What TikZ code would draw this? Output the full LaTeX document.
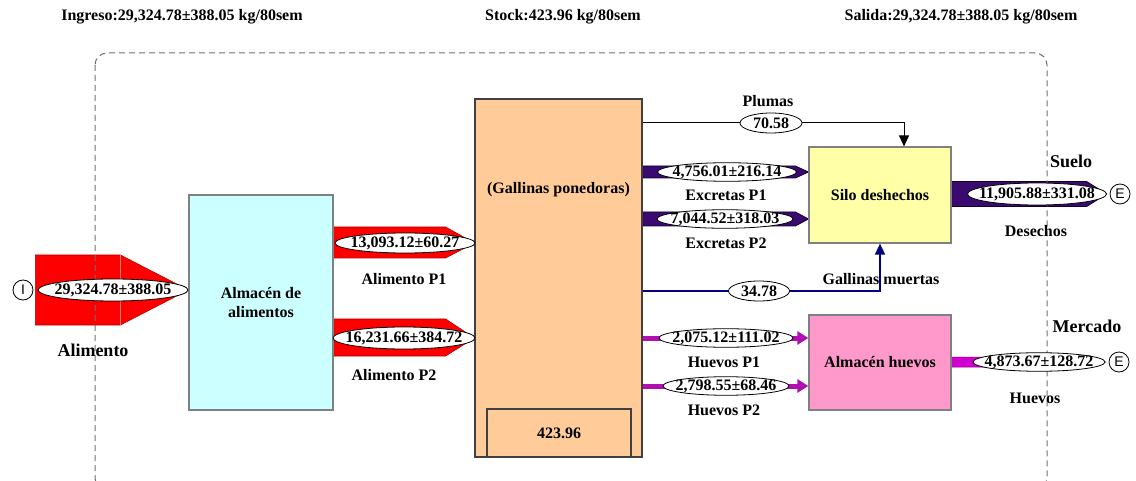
\documentclass[tikz,border=0pt]{standalone}
\usepackage{fontspec}
\setmainfont{Liberation Serif}
\newfontfamily\arialf{Liberation Sans}
\usetikzlibrary{shapes.geometric,arrows.meta,calc}
\pgfdeclarelayer{bg}
\pgfsetlayers{bg,main}
\definecolor{cyanf}{HTML}{CCFFFF}
\definecolor{peach}{HTML}{FFCC99}
\definecolor{yellowf}{HTML}{FFFFA8}
\definecolor{pinkf}{HTML}{FF99CC}
\definecolor{boxgray}{HTML}{808080}
\definecolor{darkbox}{HTML}{404040}
\definecolor{arrred}{HTML}{FF0000}
\definecolor{arrdark}{HTML}{B00000}
\definecolor{excf}{HTML}{3A0A70}
\definecolor{excd}{HTML}{14002E}
\definecolor{hueline}{HTML}{B010B0}
\definecolor{hueout}{HTML}{D000D0}
\definecolor{navyline}{HTML}{000080}
\definecolor{dashgray}{HTML}{707070}
\newcommand\et[1]{\makebox[0pt]{#1}}
\tikzset{
  txt/.style={font=\fontsize{16}{19}\selectfont\bfseries, inner sep=0pt, align=center},
  bigtxt/.style={font=\fontsize{18}{21}\selectfont\bfseries, inner sep=0pt},
  box/.style={draw=boxgray, line width=1.2pt, inner sep=0pt, align=center, font=\fontsize{16}{19}\selectfont\bfseries},
  ell/.style={ellipse, draw=black, line width=0.8pt, fill=white, inner sep=0pt, font=\fontsize{16}{19}\selectfont\bfseries},
  term/.style={circle, draw=black, line width=0.8pt, fill=white, minimum size=20pt, inner sep=0pt, font=\arialf\fontsize{14}{16}\selectfont},
  redar/.style={fill=arrred, draw=arrdark, line width=0.6pt},
  excar/.style={fill=excf, draw=excd, line width=0.8pt},
  hueoutar/.style={fill=hueout, draw=hueout!70!black, line width=0.5pt},
  hueflow/.style={draw=hueline, line width=5pt, -{Triangle[length=11pt,width=13pt]}},
  thinflow/.style={line width=1pt, -{Triangle[length=11pt,width=10pt]}},
}
\begin{document}
\begin{tikzpicture}[x=1pt,y=-1pt]
\useasboundingbox (0,0) rectangle (1136,481);
\clip (0,0) rectangle (1136,481);

% system boundary
\draw[dashgray, line width=1pt, dash pattern=on 6pt off 4pt, rounded corners=12pt] (95,53) rectangle (1047,490);

% headers
\node[txt] (hin) at (182,17) {Ingreso:29,324.78±388.05 kg/80sem};
\node[txt] (hst) at (563,17) {Stock:423.96 kg/80sem};
\node[txt] (hout) at (961,17) {Salida:29,324.78±388.05 kg/80sem};

% boxes
\node[box, fill=cyanf, minimum width=144pt, minimum height=215pt] (alm) at (261,302.5) {Almacén de\\alimentos};
\node[box, draw=darkbox, fill=peach, minimum width=167pt, minimum height=358pt] (gall) at (558.5,278) {};
\node[txt] (gtxt) at (558.5,190) {(Gallinas ponedoras)};
\node[box, draw=darkbox, fill=peach, minimum width=144pt, minimum height=48pt] (stock) at (559,433) {423.96};
\node[box, fill=yellowf, minimum width=142pt, minimum height=96pt] (silo) at (880,195) {Silo deshechos};
\node[box, fill=pinkf, minimum width=142pt, minimum height=95pt] (hue) at (880,362.5) {Almacén huevos};

% terminals
\node[term] (I) at (23,290) {I};
\node[term] (E1) at (1120,194) {E};
\node[term] (E2) at (1119,362) {E};

% flow value ellipses
\node[ell, minimum width=150pt, minimum height=22pt] (a0) at (113,290) {\et{29,324.78±388.05}};
\node[ell, minimum width=140pt, minimum height=20pt] (a1) at (405,243) {\et{13,093.12±60.27}};
\node[ell, minimum width=142pt, minimum height=22pt] (a2) at (404,338) {\et{16,231.66±384.72}};
\node[ell, minimum width=62pt, minimum height=20pt] (pl) at (771,123) {\et{70.58}};
\node[ell, minimum width=139pt, minimum height=18pt] (e1) at (727,172) {\et{4,756.01±216.14}};
\node[ell, minimum width=136pt, minimum height=18pt] (e2) at (725,219) {\et{7,044.52±318.03}};
\node[ell, minimum width=61pt, minimum height=20pt] (gm) at (759,291) {\et{34.78}};
\node[ell, minimum width=134pt, minimum height=18pt] (h1) at (726,338) {\et{2,075.12±111.02}};
\node[ell, minimum width=126pt, minimum height=18pt] (h2) at (726,386) {\et{2,798.55±68.46}};
\node[ell, minimum width=139pt, minimum height=22pt] (des) at (1037,194) {\et{11,905.88±331.08}};
\node[ell, minimum width=132pt, minimum height=18pt] (ho) at (1039,362) {\et{4,873.67±128.72}};

% labels
\node[bigtxt] (lal) at (93,350) {Alimento};
\node[txt] (lap1) at (404,279) {Alimento P1};
\node[txt] (lap2) at (394,375) {Alimento P2};
\node[txt] (lpl) at (768,101) {Plumas};
\node[txt] (lex1) at (726,195) {Excretas P1};
\node[txt] (lex2) at (726,243) {Excretas P2};
\node[txt] (lgm) at (881,279) {Gallinas muertas};
\node[txt] (lh1) at (724,362) {Huevos P1};
\node[txt] (lh2) at (724,410) {Huevos P2};
\node[bigtxt] (lsu) at (1071,161) {Suelo};
\node[txt] (lde) at (1036,231) {Desechos};
\node[bigtxt] (lme) at (1087,326) {Mercado};
\node[txt] (lhu) at (1035,398) {Huevos};

\coordinate (pc) at (904,123);

\begin{pgfonlayer}{bg}
% Alimento input
\coordinate (r0) at ($(I.east)+(2,0)$);
\filldraw[redar] ($(r0)+(0,-35)$) -- ($(r0)+(85,-35)$) -- (alm.west|-a0) -- ($(r0)+(85,35)$) -- ($(r0)+(0,35)$) -- cycle;
\draw[red!55!white, line width=0.8pt] ($(r0)+(85,-35)$) -- ($(r0)+(85,35)$);
% Alimento P1 / P2
\filldraw[redar] ($(alm.east|-a1)+(0,-16)$) -- ($(alm.east|-a1)+(112,-16)$) -- (gall.west|-a1) -- ($(alm.east|-a1)+(112,15)$) -- ($(alm.east|-a1)+(0,15)$) -- cycle;
\filldraw[redar] ($(alm.east|-a2)+(0,-19)$) -- ($(alm.east|-a2)+(112,-19)$) -- (gall.west|-a2) -- ($(alm.east|-a2)+(112,18)$) -- ($(alm.east|-a2)+(0,18)$) -- cycle;
% Excretas
\filldraw[excar] ($(gall.east|-e1)+(0,-6)$) -- ($(silo.west|-e1)+(-13,-6)$) -- (silo.west|-e1) -- ($(silo.west|-e1)+(-13,6)$) -- ($(gall.east|-e1)+(0,6)$) -- cycle;
\filldraw[excar] ($(gall.east|-e2)+(0,-7)$) -- ($(silo.west|-e2)+(-13,-7)$) -- (silo.west|-e2) -- ($(silo.west|-e2)+(-13,7)$) -- ($(gall.east|-e2)+(0,7)$) -- cycle;
% Desechos
\filldraw[excar] ($(silo.east|-des)+(0,-12.5)$) -- ($(E1.west)+(-23,-12.5)$) -- ($(E1.west)+(-3,0)$) -- ($(E1.west)+(-23,12.5)$) -- ($(silo.east|-des)+(0,12.5)$) -- cycle;
% Huevos out
\filldraw[hueoutar] ($(hue.east|-ho)+(0,-5)$) -- ($(E2.west)+(-20,-5)$) -- ($(E2.west)+(-3,0)$) -- ($(E2.west)+(-20,5)$) -- ($(hue.east|-ho)+(0,5)$) -- cycle;
% Huevos P1 / P2
\draw[hueflow] (gall.east|-h1) -- (hue.west|-h1);
\draw[hueflow] (gall.east|-h2) -- (hue.west|-h2);
% Plumas
\draw[thinflow, black] (gall.east|-pl) -- (pc) -- (pc|-silo.north);
% Gallinas muertas
\draw[thinflow, navyline, line width=1.5pt] (gall.east|-gm) -- (silo.south|-gm) -- (silo.south);
\end{pgfonlayer}
\end{tikzpicture}
\end{document}
